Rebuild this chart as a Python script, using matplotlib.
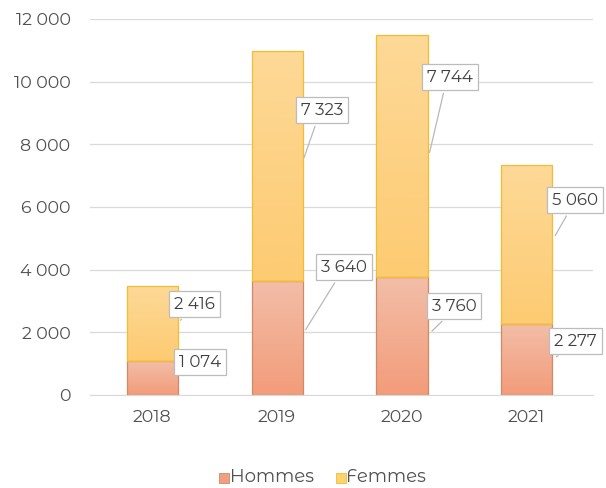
import numpy as np
import matplotlib.pyplot as plt
from matplotlib.colors import LinearSegmentedColormap

years = ["2018", "2019", "2020", "2021"]
hommes = [1074, 3640, 3760, 2277]
femmes = [2416, 7323, 7744, 5060]
yticks = [0, 2000, 4000, 6000, 8000, 10000, 12000]

def fmt(v):
    return "{:,}".format(v).replace(",", " ")

# Montserrat itself is only the variable (thin) file here, the alternates have a regular weight
plt.rcParams['font.family'] = ['Montserrat Alternates', 'Lato', 'DejaVu Sans']
plt.rcParams['font.weight'] = 'normal'

fig = plt.figure(figsize=(6.06, 4.88), dpi=100)
ax = fig.add_axes([0.1485, 0.1906, 0.830, 0.7705])

x = np.arange(len(years))
w = 0.41
b1 = ax.bar(x, hommes, w, color='#f3aa8c', edgecolor='#d08a68', linewidth=0.9, zorder=2)
b2 = ax.bar(x, femmes, w, bottom=hommes, color='#fdd283', edgecolor='#f0bd35', linewidth=0.9, zorder=2)

# vertical gradients clipped to each bar
cm_h = LinearSegmentedColormap.from_list('h', ['#f29c7a', '#f3bea8'])
cm_f = LinearSegmentedColormap.from_list('f', ['#fdcb72', '#fdd997'])
grad = np.linspace(0, 1, 100).reshape(-1, 1)
for bars, cm in [(b1, cm_h), (b2, cm_f)]:
    for p in bars:
        x0, y0 = p.get_x(), p.get_y()
        im = ax.imshow(grad, cmap=cm, origin='lower', aspect='auto',
                       extent=[x0, x0 + p.get_width(), y0, y0 + p.get_height()], zorder=2.5)
        im.set_clip_path(p)
        p.set_facecolor('none')
        p.set_zorder(3)

ax.set_xlim(-0.5, 3.53)
ax.set_ylim(0, 12000)
ax.set_yticks(yticks)
ax.set_yticklabels([fmt(v) for v in yticks])
ax.set_xticks(x)
ax.set_xticklabels(years)
ax.tick_params(length=0, labelsize=12.5, labelcolor='#505050')
ax.tick_params(axis='y', pad=14)
ax.tick_params(axis='x', pad=10)
ax.yaxis.grid(True, color='#d9d9d9', linewidth=0.9, zorder=0)
ax.set_axisbelow(True)
for s in ['top', 'right', 'left']:
    ax.spines[s].set_visible(False)
ax.spines['bottom'].set_color('#d9d9d9')

# callout labels: (anchor x, anchor y, text x, text y)
lab_h = [(0.208, 797, 0.384, 1053), (1.216, 2010, 1.536, 4083),
         (2.224, 1978, 2.416, 2839), (3.216, 1180, 3.39, 1722)]
lab_f = [(0.208, 2329, 0.336, 2903), (1.208, 7496, 1.36, 9091),
         (2.216, 7656, 2.384, 10144), (3.216, 5008, 3.39, 6220)]
for vals, pos in [(hommes, lab_h), (femmes, lab_f)]:
    for v, (ax_, ay, tx, ty) in zip(vals, pos):
        ax.annotate(fmt(v), xy=(ax_, ay), xytext=(tx, ty), ha='center', va='center',
                    fontsize=12, color='#404040', zorder=5,
                    bbox=dict(boxstyle='square,pad=0.3', fc='white', ec='#bcbcbc', lw=0.9),
                    arrowprops=dict(arrowstyle='-', color='#b8b8b8', lw=0.9, relpos=(0.4, 0)))

h1 = ax.scatter([], [], marker='s', s=60, color='#f0a07f', edgecolor='#d08a68', linewidth=0.6)
h2 = ax.scatter([], [], marker='s', s=60, color='#fcd36d', edgecolor='#f0bd35', linewidth=0.6)
fig.legend([h1, h2], ['Hommes', 'Femmes'], loc='center', bbox_to_anchor=(0.528, 0.022),
           ncol=2, frameon=False, fontsize=13, handletextpad=-0.3, columnspacing=0.9,
           handlelength=1.2, labelcolor='#505050', borderpad=0)

fig.savefig('out.png', dpi=100)
